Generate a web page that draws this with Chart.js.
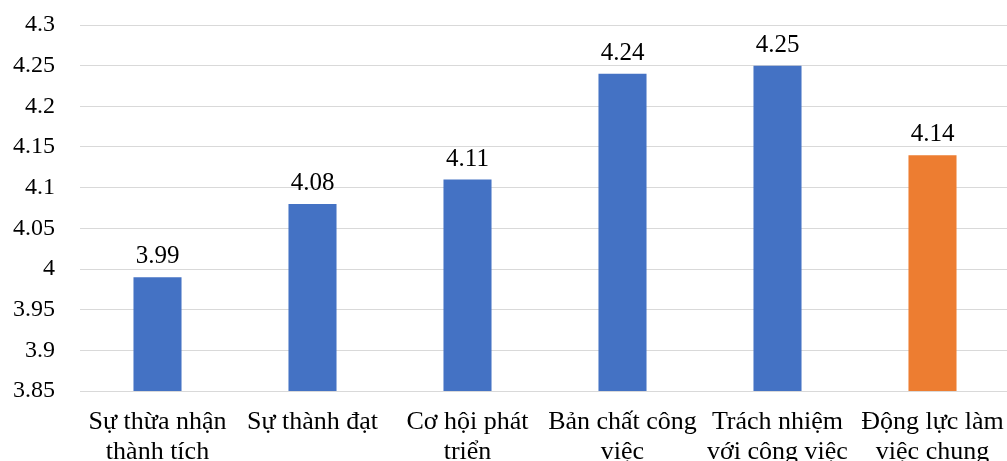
<!DOCTYPE html>
<html>
<head>
<meta charset="utf-8">
<script src="https://cdn.jsdelivr.net/npm/chart.js@4.4.1/dist/chart.umd.min.js"></script>
<style>
  html, body { margin: 0; padding: 0; background: #fff; overflow: hidden; }
  #wrap { position: relative; width: 1010px; height: 461px; }
</style>
</head>
<body>
<div id="wrap"><canvas id="c"></canvas></div>
<script>
const categories = [
  ["Sự thừa nhận", "thành tích"],
  ["Sự thành đạt"],
  ["Cơ hội phát", "triển"],
  ["Bản chất công", "việc"],
  ["Trách nhiệm", "với công việc"],
  ["Động lực làm", "việc chung"]
];
const values = [3.99, 4.08, 4.11, 4.24, 4.25, 4.14];
const barColors = ["#4472C4", "#4472C4", "#4472C4", "#4472C4", "#4472C4", "#ED7D31"];
const yTicks = [3.85, 3.9, 3.95, 4, 4.05, 4.1, 4.15, 4.2, 4.25, 4.3];
const yTickLabels = ["3.85", "3.9", "3.95", "4", "4.05", "4.1", "4.15", "4.2", "4.25", "4.3"];

const FONT = "'Liberation Serif', 'Times New Roman', serif";

const valueLabels = {
  id: 'valueLabels',
  afterDatasetsDraw(chart) {
    const ctx = chart.ctx;
    const meta = chart.getDatasetMeta(0);
    ctx.save();
    ctx.font = "25px " + FONT;
    ctx.fillStyle = "#000";
    ctx.textAlign = "center";
    ctx.textBaseline = "alphabetic";
    meta.data.forEach((bar, i) => {
      ctx.fillText(String(values[i]), bar.x, bar.y - 14);
    });
    ctx.restore();
  }
};

new Chart(document.getElementById('c'), {
  type: 'bar',
  data: {
    labels: categories,
    datasets: [{
      data: values,
      backgroundColor: barColors,
      borderWidth: 0,
      categoryPercentage: 1,
      barPercentage: 0.31
    }]
  },
  options: {
    responsive: true,
    maintainAspectRatio: false,
    animation: false,
    devicePixelRatio: 1,
    layout: { padding: { top: 25, right: 0, left: 0, bottom: 0 } },
    plugins: {
      legend: { display: false },
      tooltip: { enabled: false }
    },
    scales: {
      x: {
        grid: { display: false, drawTicks: false },
        border: { display: false },
        ticks: {
          color: "#000",
          font: { family: FONT, size: 26, lineHeight: 1.15 },
          padding: 16,
          maxRotation: 0,
          autoSkip: false
        },
        afterFit(scale) {
          scale.height = 70;
          scale.paddingLeft = 0; scale.paddingRight = 0;
          scale.paddingTop = 0; scale.paddingBottom = 0;
        }
      },
      y: {
        min: 3.85,
        max: 4.3,
        grid: { color: "#d9d9d9", lineWidth: 1, drawTicks: false },
        border: { display: false },
        afterBuildTicks(scale) { scale.ticks = yTicks.map(v => ({ value: v })); },
        ticks: {
          color: "#000",
          font: { family: FONT, size: 24 },
          padding: 25,
          callback: (v) => yTickLabels[yTicks.findIndex(t => Math.abs(t - v) < 1e-9)]
        },
        afterFit(scale) {
          scale.width = 80;
          scale.paddingTop = 0; scale.paddingBottom = 0;
          scale.paddingLeft = 0; scale.paddingRight = 0;
        }
      }
    }
  },
  plugins: [valueLabels]
});
</script>
</body>
</html>
